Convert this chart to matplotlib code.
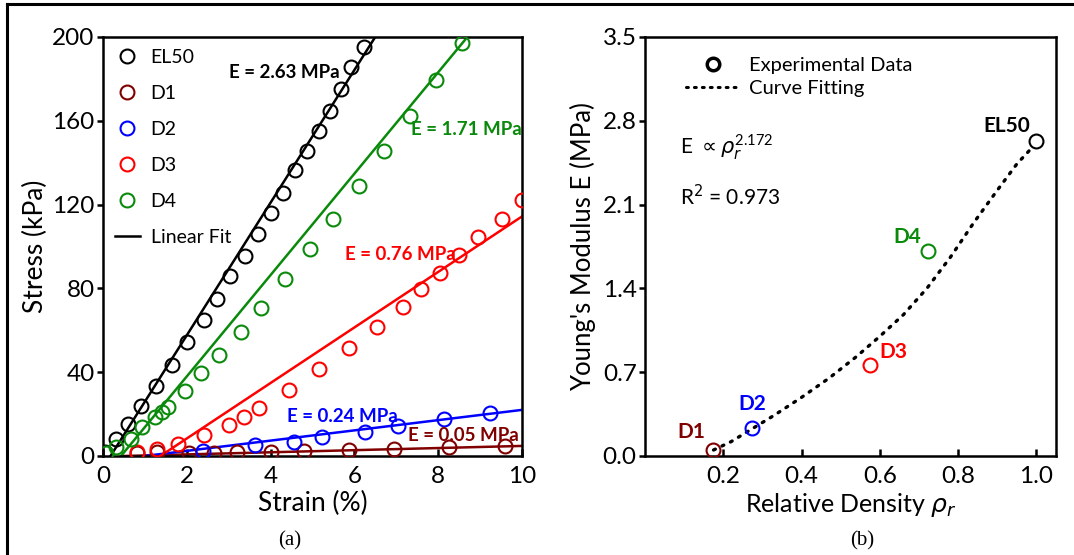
import matplotlib
matplotlib.use('Agg')
import matplotlib.pyplot as plt
from matplotlib.lines import Line2D

plt.rcParams['font.family'] = ['Lato', 'DejaVu Sans']
plt.rcParams['mathtext.fontset'] = 'dejavusans'

# ---- panel (a): stress-strain data ----
el50_x = [0.05, 0.30, 0.59, 0.90, 1.27, 1.64, 2.01, 2.40, 2.73, 3.04, 3.39, 3.70, 4.01,
          4.29, 4.59, 4.87, 5.15, 5.42, 5.69, 5.93, 6.22]
el50_y = [2.0, 8.0, 15.5, 24.0, 33.5, 43.6, 54.2, 65.0, 75.0, 86.0, 95.6, 106.0, 115.9,
          125.6, 136.3, 145.8, 154.9, 164.9, 175.3, 185.7, 195.2]
d1_x = [0.80, 1.30, 2.05, 2.65, 3.20, 4.00, 4.80, 5.88, 6.94, 8.25, 9.60]
d1_y = [1.2, 1.8, 1.4, 1.3, 1.8, 1.9, 2.4, 2.8, 3.3, 4.1, 4.9]
d2_x = [2.38, 3.63, 4.57, 5.22, 6.26, 7.04, 8.15, 9.24]
d2_y = [2.4, 5.3, 6.9, 9.1, 11.5, 14.4, 17.5, 20.7]
d3_x = [0.80, 1.29, 1.78, 2.40, 3.02, 3.37, 3.73, 4.44, 5.15, 5.87, 6.53, 7.17, 7.59,
        8.05, 8.50, 8.95, 9.52, 10.0]
d3_y = [1.8, 3.4, 5.8, 10.0, 14.8, 18.8, 23.1, 31.4, 41.5, 51.5, 61.4, 71.3, 79.8,
        87.5, 96.1, 104.4, 113.2, 122.2]
d4_x = [0.06, 0.30, 0.67, 0.92, 1.25, 1.40, 1.56, 1.95, 2.33, 2.78, 3.29, 3.78, 4.35,
        4.95, 5.49, 6.10, 6.71, 7.33, 7.94, 8.56]
d4_y = [1.6, 4.5, 8.0, 13.6, 18.4, 20.8, 23.4, 30.8, 39.4, 48.3, 59.0, 70.6, 84.5,
        98.8, 113.1, 129.1, 145.5, 162.5, 179.6, 197.1]

# linear fit end points
el50_fit = ([0.18, 6.5], [0, 200])
d1_fit = ([0.5, 10], [0, 4.8])
d2_fit = ([1.0, 10], [0, 22])
d3_fit = ([1.37, 10], [0, 114.3])
d4_fit = ([0.43, 8.7], [0, 200])

moduli = ['E = 2.63 MPa', 'E = 0.05 MPa', 'E = 0.24 MPa', 'E = 0.76 MPa', 'E = 1.71 MPa']

# ---- panel (b): modulus vs relative density ----
names = ['D1', 'D2', 'D3', 'D4', 'EL50']
rho = [0.174, 0.273, 0.575, 0.724, 0.998]
E_mod = [0.05, 0.235, 0.76, 1.71, 2.63]
curve_rho = [0.175, 0.22, 0.275, 0.33, 0.40, 0.47, 0.54, 0.60, 0.66, 0.72, 0.78,
             0.84, 0.90, 0.95, 0.99]
curve_E = [0.05, 0.12, 0.23, 0.34, 0.49, 0.65, 0.83, 1.00, 1.18, 1.40, 1.66,
           1.95, 2.22, 2.44, 2.58]

darkred = '#800000'
green = '#0a8a0a'
colors = ['black', darkred, 'blue', 'red', green]

fig = plt.figure(figsize=(10.74, 5.55), dpi=100)
ax1 = fig.add_axes([0.0959, 0.1784, 0.390, 0.755])
ax2 = fig.add_axes([0.6006, 0.1784, 0.3827, 0.755])

mk = dict(marker='o', ms=10, mfc='none', mew=1.5, ls='none')
series = [(el50_x, el50_y, 'EL50'), (d1_x, d1_y, 'D1'), (d2_x, d2_y, 'D2'),
          (d3_x, d3_y, 'D3'), (d4_x, d4_y, 'D4')]
fits = [el50_fit, d1_fit, d2_fit, d3_fit, d4_fit]
for (x, y, lab), fit, c in zip(series, fits, colors):
    ax1.plot(fit[0], fit[1], color=c, lw=1.8, zorder=2)
    ax1.plot(x, y, mec=c, label=lab, zorder=3, **mk)
ax1.plot([], [], color='black', lw=1.8, label='Linear Fit')

lbl = dict(fontsize=13.5, fontweight='bold')
ax1.text(5.65, 183, moduli[0], color='black', ha='right', va='center', **lbl)
ax1.text(7.35, 156, moduli[4], color=green, ha='left', va='center', **lbl)
ax1.text(5.77, 96, moduli[3], color='red', ha='left', va='center', **lbl)
ax1.text(4.39, 18.8, moduli[2], color='blue', ha='left', va='center', **lbl)
ax1.text(7.27, 9.6, moduli[1], color=darkred, ha='left', va='center', **lbl)

ax1.set_xlim(0, 10)
ax1.set_ylim(0, 200)
ax1.set_xticks([0, 2, 4, 6, 8, 10])
ax1.set_yticks([0, 40, 80, 120, 160, 200])
ax1.set_xlabel('Strain (%)', fontsize=19, labelpad=3)
ax1.set_ylabel('Stress (kPa)', fontsize=19, labelpad=3)
ax1.legend(loc='upper left', frameon=False, fontsize=14, labelspacing=0.98,
           handlelength=1.3, handletextpad=0.55, borderaxespad=0.2,
           bbox_to_anchor=(0.0, 1.0))

# panel (b)
ax2.plot(curve_rho, curve_E, color='black', lw=2.4, ls=(0, (0.6, 2.2)),
         dash_capstyle='round', zorder=2)
offs = {'D1': (-6, 6, 'right'), 'D2': (0, 10, 'center'), 'D3': (7, 2, 'left'),
        'D4': (-5, 3, 'right'), 'EL50': (-4, 4, 'right')}
for n, r, e, c in zip(names, rho, E_mod, [darkred, 'blue', 'red', green, 'black']):
    ax2.plot(r, e, mec=c, zorder=3, **mk)
    dx, dy, ha = offs[n]
    ax2.annotate(n, (r, e), xytext=(dx, dy), textcoords='offset points', ha=ha,
                 va='bottom', color=c, fontsize=15, fontweight='bold')

h1 = Line2D([], [], marker='o', ms=9, mfc='none', mec='black', mew=2.5, ls='none')
h2 = Line2D([], [], color='black', lw=2.2, ls=(0, (0.6, 2.0)), dash_capstyle='round')
ax2.legend([h1, h2], ['Experimental Data', 'Curve Fitting'], loc='upper left',
           frameon=False, fontsize=14.5, handlelength=2.7, handletextpad=0.45,
           labelspacing=0.3, bbox_to_anchor=(0.055, 0.995))

ax2.text(0.09, 2.58, r'E $\propto \rho_r^{\mathregular{2.172}}$', fontsize=15,
         ha='left', va='center')
ax2.text(0.09, 2.17, 'R$^2$ = 0.973', fontsize=15, ha='left', va='center')

ax2.set_xlim(0, 1.05)
ax2.set_ylim(0, 3.5)
ax2.set_xticks([0.2, 0.4, 0.6, 0.8, 1.0])
ax2.set_xticklabels(['0.2', '0.4', '0.6', '0.8', '1.0'])
ax2.set_yticks([0.0, 0.7, 1.4, 2.1, 2.8, 3.5])
ax2.set_xlabel(r'Relative Density $\rho_r$', fontsize=18, labelpad=3)
ax2.set_ylabel("Young's Modulus E (MPa)", fontsize=18.5, labelpad=5)

for ax in (ax1, ax2):
    for s in ax.spines.values():
        s.set_linewidth(1.8)
    ax.tick_params(axis='x', direction='in', length=5, width=1.8, labelsize=17.5, pad=7)
    ax.tick_params(axis='y', direction='out', length=4, width=1.8, labelsize=17.5, pad=2)

fig.text(0.270, 0.018, '(a)', family='Liberation Serif', fontsize=15, ha='center')
fig.text(0.803, 0.018, '(b)', family='Liberation Serif', fontsize=15, ha='center')

# outer frame (top and left edges)
fig.add_artist(Line2D([0.0065, 0.0065], [0, 0.993], transform=fig.transFigure,
                      color='black', lw=2.2))
fig.add_artist(Line2D([0.0065, 1.0], [0.993, 0.993], transform=fig.transFigure,
                      color='black', lw=2.2))

fig.savefig('out.png', dpi=100)
